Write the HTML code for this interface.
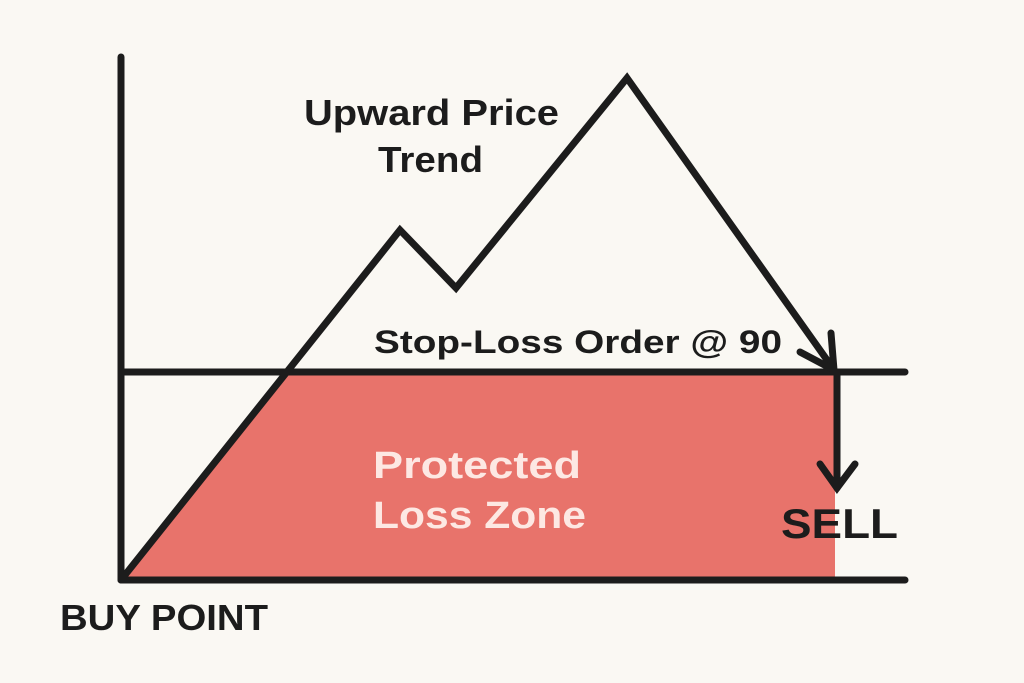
<!DOCTYPE html>
<html><head><meta charset="utf-8"><style>
html,body{margin:0;padding:0;background:#faf8f3;}
svg{display:block;}
text{font-family:"Liberation Sans",sans-serif;font-weight:bold;}
</style></head><body>
<svg width="1024" height="683" viewBox="0 0 1024 683" xmlns="http://www.w3.org/2000/svg">
<rect width="1024" height="683" fill="#faf8f3"/>
<polygon points="125,577 285,372 835,372 835,580 125,580" fill="#e8736b"/>
<g stroke="#1c1c1c" stroke-width="7" stroke-linecap="round" stroke-linejoin="miter" fill="none">
<line x1="121" y1="57" x2="121" y2="580"/>
<line x1="121" y1="580" x2="905" y2="580"/>
<line x1="121" y1="372" x2="905" y2="372"/>
<polyline points="125,575 400,230 456,288 627,78 832,367"/>
<polyline points="800,352 834,370 831,333"/>
<line x1="837" y1="372" x2="837" y2="488"/>
<polyline points="820,464 837,488 855,464"/>
</g>
<g fill="#1c1c1c">
<text x="304" y="125" font-size="36" textLength="255" lengthAdjust="spacingAndGlyphs">Upward Price</text>
<text x="378" y="172" font-size="36" textLength="105" lengthAdjust="spacingAndGlyphs">Trend</text>
<text x="374" y="353" font-size="32" textLength="408" lengthAdjust="spacingAndGlyphs">Stop-Loss Order @ 90</text>
<text x="781" y="538" font-size="42" textLength="117" lengthAdjust="spacingAndGlyphs">SELL</text>
<text x="60" y="630" font-size="36" textLength="208" lengthAdjust="spacingAndGlyphs">BUY POINT</text>
</g>
<g fill="#fde8e3">
<text x="373" y="478" font-size="38" textLength="208" lengthAdjust="spacingAndGlyphs">Protected</text>
<text x="373" y="528" font-size="38" textLength="213" lengthAdjust="spacingAndGlyphs">Loss Zone</text>
</g>
</svg>
</body></html>
